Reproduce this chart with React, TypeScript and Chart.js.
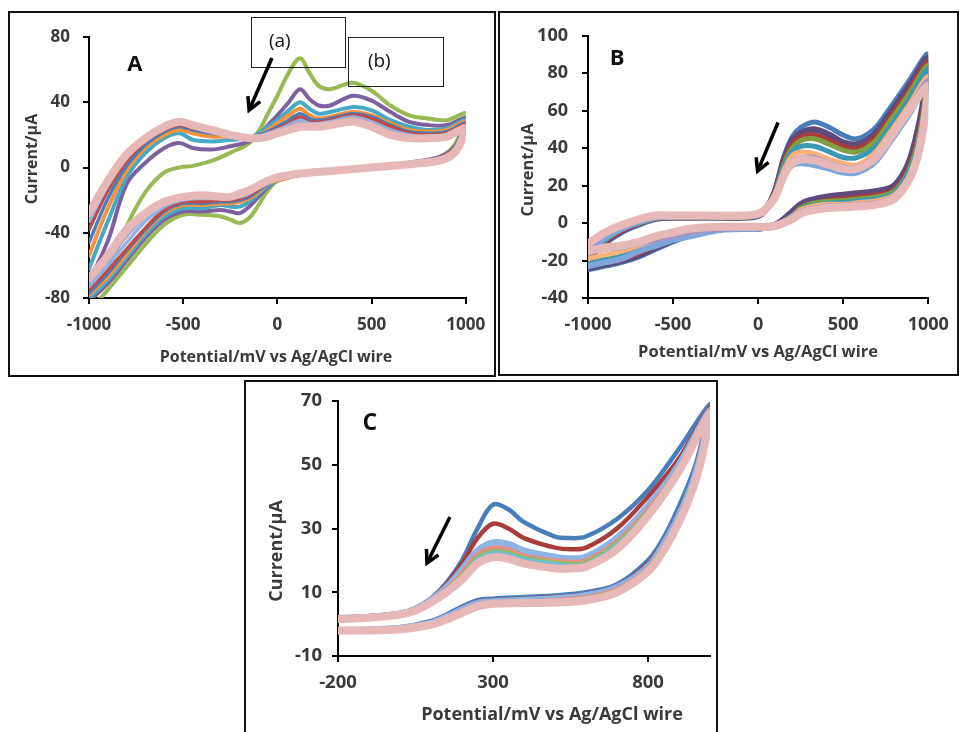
import React, { useEffect, useRef } from "react";
import { Chart, registerables } from "chart.js";

Chart.register(...registerables);

const FONT = "'Open Sans', 'DejaVu Sans', sans-serif";
const TEXT_COLOR = "#3a3a3a";
const X_TITLE = "Potential/mV vs Ag/AgCl wire";
const Y_TITLE = "Current/\u03bcA";

// ---------------- Panel A ----------------
const A_X_TICKS = [-1000, -500, 0, 500, 1000];
const A_Y_TICKS = [-80, -40, 0, 40, 80];
const A_FWD_X = [-1000, -900, -800, -700, -600, -520, -450, -350, -250, -150, -100, -50, 0, 60, 120, 170, 220, 280, 400, 500, 600, 700, 800, 900, 1000];
const A_REV_X = [960, 920, 850, 700, 500, 300, 100, 0, -50, -100, -150, -200, -250, -300, -400, -500, -600, -700, -800, -900, -1000];

const A_GREEN_F = [-84, -64, -36, -15, -3, 0, 1, 4, 9, 15, 22, 33, 44, 58, 67, 58, 50, 48, 52, 47, 38, 32, 30, 29, 33];
const A_GREEN_R = [18, 11, 6, 3, 0, -2, -4, -8, -14, -23, -31, -34, -32, -30, -29, -29, -35, -47, -61, -75, -88];
const A_PURPLE_F = [-70, -45, -10, 3, 12, 15, 12, 11, 13, 16, 20, 26, 32, 40, 48, 42, 38, 38, 44, 41, 34, 28, 26, 26, 30];
const A_PURPLE_R = [16, 10, 6, 3, 0, -2, -4, -8, -12, -18, -24, -28, -27, -26, -27, -27, -32, -43, -57, -71, -82];
const A_TEAL_F = [-62, -33, -6, 9, 18, 21, 17, 16, 17, 18, 21, 25, 29, 35, 40, 36, 33, 34, 37, 35, 29, 25, 23, 24, 29];
const A_TEAL_R = [15, 9, 5, 2, 0, -2, -5, -8, -11, -16, -21, -24, -24, -23, -25, -25, -30, -41, -55, -69, -80];
const A_ORANGE_F = [-54, -25, -2, 12, 20, 23, 21, 19, 19, 18, 20, 23, 27, 32, 36, 32, 30, 31, 34, 32, 27, 23, 22, 23, 28];
const A_ORANGE_R = [14, 9, 5, 2, 0, -2, -5, -8, -10, -15, -19, -21, -22, -22, -23, -23, -28, -39, -53, -67, -78];
const A_BLUE_F = [-46, -19, 1, 14, 22, 25, 23, 21, 20, 18, 20, 22, 25, 29, 33, 30, 29, 30, 33, 31, 26, 22, 21, 22, 27];
const A_BLUE_R = [13, 8, 4, 2, 0, -2, -5, -7, -10, -14, -18, -20, -21, -21, -22, -22, -27, -38, -51, -65, -77];
const A_RED_F = [-38, -14, 4, 16, 23, 26, 24, 22, 20, 18, 19, 21, 24, 27, 31, 28, 28, 29, 32, 30, 25, 21, 20, 21, 26];
const A_RED_R = [13, 8, 4, 2, 0, -2, -5, -7, -9, -13, -17, -19, -20, -20, -21, -21, -26, -37, -50, -63, -75];
const A_LBLUE_F = [-33, -11, 6, 17, 24, 27, 25, 22, 20, 18, 19, 21, 23, 26, 29, 27, 27, 28, 31, 28, 23, 20, 19, 20, 25];
const A_LBLUE_R = [13, 8, 4, 2, 0, -2, -5, -7, -9, -12, -16, -18, -19, -19, -19, -20, -24, -33, -46, -60, -73];
const A_LAV_F = [-30, -9, 7, 17, 25, 28, 26, 23, 20, 18, 18, 20, 22, 25, 27, 26, 26, 27, 30, 27, 22, 19, 18, 20, 24];
const A_LAV_R = [12, 8, 4, 2, 0, -2, -4, -7, -8, -11, -15, -17, -18, -18, -18, -19, -22, -30, -42, -57, -70];
const A_PINK_F = [-28, -8, 8, 18, 25, 28, 26, 23, 20, 18, 18, 19, 21, 23, 25, 25, 25, 26, 28, 25, 20, 18, 18, 19, 24];
const A_PINK_R = [12, 7, 4, 2, 0, -2, -4, -6, -8, -11, -14, -16, -18, -18, -17, -18, -21, -28, -38, -54, -68];

// ---------------- Panel B ----------------
const B_X_TICKS = [-1000, -500, 0, 500, 1000];
const B_Y_TICKS = [-40, -20, 0, 20, 40, 60, 80, 100];
const B_FWD_X = [-1000, -900, -800, -700, -600, -500, -300, -100, 0, 50, 100, 150, 200, 250, 330, 420, 500, 580, 680, 780, 880, 1000];
const B_REV_X = [970, 930, 880, 800, 700, 600, 500, 400, 300, 250, 200, 150, 100, 50, 0, -200, -400, -500, -600, -700, -800, -900, -1000];

const B_BLUE_F = [-20, -11, -5, -1, 2, 3, 3, 3, 4, 8, 18, 35, 46, 51, 54, 51, 47, 45, 50, 62, 75, 90];
const B_BLUE_R = [58, 38, 24, 15, 12, 11, 10, 9.5, 8, 6, 3, 0.5, -1.5, -2.5, -3, -3, -7, -10, -14, -18, -21, -23, -25];
const B_PURPLE_F = [-19, -10, -4, 0, 2.5, 3, 3, 3, 4, 8, 17, 33, 44, 48, 50, 47, 43, 42, 47, 59, 72, 88];
const B_PURPLE_R = [64, 46, 31, 20, 17, 16, 15, 14, 12, 10, 6, 2, -1, -2, -3, -3, -6, -9, -13, -17, -20, -22, -24];
const B_RED_F = [-18, -10, -4, 0, 2.5, 3, 3, 3, 4, 8, 17, 32, 42, 46, 47, 44, 41, 40, 45, 57, 70, 86];
const B_RED_R = [60, 42, 28, 18, 15, 14, 13, 12, 10, 8, 4, 1, -1.5, -2, -3, -3, -6, -9, -12, -16, -19, -21, -23];
const B_GREEN_F = [-17, -9, -3, 0, 2.5, 3, 3, 3, 4, 8, 16, 31, 40, 44, 45, 42, 39, 38, 43, 55, 68, 84];
const B_GREEN_R = [58, 40, 27, 17, 14, 13, 12, 11.5, 10, 8, 4, 1, -1.5, -2, -3, -3, -6, -8, -12, -15, -18, -20, -22];
const B_TEAL_F = [-16, -9, -3, 0.5, 3, 3.5, 3.5, 3.5, 4, 8, 16, 30, 38, 41, 41, 38, 35, 35, 40, 52, 65, 82];
const B_TEAL_R = [56, 38, 26, 16, 13, 12, 11, 10.5, 9, 7, 4, 1, -1.5, -2, -3, -3, -6, -8, -11, -14, -17, -19, -21];
const B_PEACH_F = [-14, -7, -2, 1, 3, 3.5, 3.5, 3.5, 4.5, 8, 15, 28, 36, 38, 37, 34, 32, 31, 37, 49, 62, 78];
const B_PEACH_R = [54, 36, 24, 15, 12, 11, 10, 10, 8.5, 7, 3.5, 0.5, -1.5, -2, -2.5, -3, -5, -7, -10, -12, -15, -17, -19];
const B_CORN_F = [-15, -8, -3, 0.5, 3, 3.5, 3.5, 3.5, 4.5, 7.5, 14, 25, 31, 32, 31, 29, 27, 27, 32, 44, 57, 74];
const B_CORN_R = [50, 33, 22, 13, 10, 9, 8.5, 8, 6.5, 5, 2.5, 0, -2, -2.5, -3, -3.5, -7, -9, -12, -15, -19, -21, -23];
const B_LAV_F = [-13, -6, -1, 1.5, 3.5, 4, 4, 4, 4.5, 8, 15, 27, 33, 35, 35, 32, 30, 30, 35, 47, 60, 76];
const B_LAV_R = [52, 34, 23, 14, 11, 10, 9.5, 9, 7.5, 6, 3, 0.5, -1.5, -2, -2.5, -3, -5, -7, -9, -11, -13, -14, -16];
const B_PINK_F = [-11, -5, -1, 2, 4, 4, 4, 4, 5, 8, 14, 25, 32, 34, 33.5, 31, 29, 29, 34, 46, 59, 73];
const B_PINK_R = [50, 33, 22, 13, 10, 9, 8.5, 8, 6.5, 5, 2, 0, -1.5, -2, -2, -2, -3, -5, -7, -10, -12, -13, -15];

// ---------------- Panel C ----------------
const C_X_TICKS = [-200, 300, 800];
const C_Y_TICKS = [-10, 10, 30, 50, 70];
const C_FWD_X = [-200, -100, 0, 50, 100, 150, 200, 250, 300, 350, 400, 500, 550, 600, 700, 800, 900, 1000];
const C_REV_X = [980, 950, 900, 850, 800, 700, 600, 500, 400, 300, 250, 200, 150, 100, 0, -100, -200];

const C_BLUE_F = [2, 2.5, 3.5, 5, 8, 13, 20, 30, 37.5, 36, 32, 27.5, 27, 27.5, 33, 42, 55, 69];
const C_BLUE_R = [60, 49, 37, 27, 20, 12.5, 10, 9, 8.5, 8, 7.5, 5.5, 3, 1, -1, -1.5, -2];
const C_RED_F = [2, 2.5, 3.5, 5, 8, 12.5, 19, 27, 31.5, 30, 27, 24, 23.5, 24, 30, 40, 52, 68];
const C_RED_R = [58, 47, 35, 26, 19, 12, 9.5, 8.5, 8, 7.5, 7, 5, 2.5, 0.5, -1.2, -1.7, -2];
const C_CORN_F = [1.8, 2.2, 3.2, 4.7, 7.5, 11.5, 17, 23, 25.5, 25, 23, 21, 20.5, 21, 27, 37, 50, 67];
const C_CORN_R = [57, 46, 34, 25, 18, 11.5, 9, 8, 7.5, 7, 6.5, 4.5, 2.3, 0.3, -1.3, -1.8, -2];
const C_SALMON_F = [1.8, 2.2, 3.2, 4.6, 7.3, 11, 16, 22, 24, 23.5, 21.5, 20, 19.5, 20, 26, 36, 49, 67];
const C_SALMON_R = [56, 45, 33, 24, 17.5, 11, 8.5, 7.5, 7, 6.8, 6.2, 4.2, 2, 0.2, -1.4, -1.9, -2];
const C_GREEN_F = [1.7, 2.1, 3.1, 4.5, 7.2, 10.8, 15.5, 21, 23, 22.5, 21, 19.5, 19, 19.5, 25.5, 35.5, 48.5, 66];
const C_GREEN_R = [56, 45, 33, 24, 17, 10.8, 8.3, 7.3, 6.9, 6.6, 6, 4, 1.8, 0, -1.5, -2, -2];
const C_TEAL_F = [1.7, 2.1, 3, 4.4, 7, 10.5, 15, 20.5, 22.5, 22, 20.5, 19, 18.5, 19, 25, 35, 48, 66];
const C_TEAL_R = [55.5, 44.5, 32.5, 23.5, 16.8, 10.5, 8, 7, 6.8, 6.5, 5.8, 3.8, 1.6, -0.1, -1.5, -2, -2];
const C_PINK_F = [1.5, 2, 3, 4.3, 6.8, 10, 14, 19, 21, 20.5, 19, 17.5, 17.5, 18, 23.5, 34, 48, 66];
const C_PINK_R = [55, 44, 32, 23, 16.5, 10, 7.5, 6.8, 6.6, 6.4, 5.6, 3.5, 1.5, -0.2, -1.6, -2, -2];

type Series = { color: string; width: number; fwd: number[]; rev: number[] };
type Note = {
  letter: { x: number; y: number; text: string; size: number };
  arrows: { x1: number; y1: number; x2: number; y2: number }[];
  boxes: { x1: number; y1: number; x2: number; y2: number }[];
  labels: { x: number; y: number; text: string; size: number }[];
};
type Rect = { left: number; top: number; right: number; bottom: number };
type Panel = {
  box: Rect;
  area: Rect;
  xMin: number; xMax: number; yMin: number; yMax: number;
  xTicks: number[]; yTicks: number[];
  fwdX: number[]; revX: number[];
  series: Series[];
  tickSize: number; titleSize: number;
  xTickY: number; yLabelRight: number;
  xTitle: { x: number; y: number };
  yTitle: { x: number; y: number };
  notes: Note;
};

const PANEL_A: Panel = {
  box: { left: 8, top: 11, right: 496, bottom: 377 },
  area: { left: 89, top: 37, right: 468, bottom: 298 },
  xMin: -1000, xMax: 1000, yMin: -80, yMax: 80,
  xTicks: A_X_TICKS, yTicks: A_Y_TICKS, fwdX: A_FWD_X, revX: A_REV_X,
  series: [
    { color: "#98B954", width: 4, fwd: A_GREEN_F, rev: A_GREEN_R },
    { color: "#7D60A0", width: 4, fwd: A_PURPLE_F, rev: A_PURPLE_R },
    { color: "#46AAC5", width: 4, fwd: A_TEAL_F, rev: A_TEAL_R },
    { color: "#F69240", width: 4, fwd: A_ORANGE_F, rev: A_ORANGE_R },
    { color: "#4A7EBB", width: 3.5, fwd: A_BLUE_F, rev: A_BLUE_R },
    { color: "#BE4B48", width: 3.5, fwd: A_RED_F, rev: A_RED_R },
    { color: "#8EB4E3", width: 3.5, fwd: A_LBLUE_F, rev: A_LBLUE_R },
    { color: "#B3A2C7", width: 3.5, fwd: A_LAV_F, rev: A_LAV_R },
    { color: "#E6B9B8", width: 8, fwd: A_PINK_F, rev: A_PINK_R },
  ],
  tickSize: 17, titleSize: 16,
  xTickY: 325, yLabelRight: 70,
  xTitle: { x: 276, y: 357 },
  yTitle: { x: 32, y: 159 },
  notes: {
    letter: { x: -757, y: 62.8, text: "A", size: 22 },
    arrows: [{ x1: -29, y1: 67.1, x2: -150, y2: 35.2 }],
    boxes: [
      { x1: -140, y1: 92.3, x2: 361, y2: 61.6 },
      { x1: 377, y1: 80, x2: 879, y2: 50 },
    ],
    labels: [
      { x: 13, y: 76.9, text: "(a)", size: 19 },
      { x: 541, y: 64.7, text: "(b)", size: 19 },
    ],
  },
};

const PANEL_B: Panel = {
  box: { left: 498, top: 11, right: 959, bottom: 376 },
  area: { left: 588, top: 29, right: 937, bottom: 298 },
  xMin: -1000, xMax: 1000, yMin: -40, yMax: 100,
  xTicks: B_X_TICKS, yTicks: B_Y_TICKS, fwdX: B_FWD_X, revX: B_REV_X,
  series: [
    { color: "#4A7EBB", width: 5, fwd: B_BLUE_F, rev: B_BLUE_R },
    { color: "#5F4A7E", width: 6.5, fwd: B_PURPLE_F, rev: B_PURPLE_R },
    { color: "#A83E3B", width: 5, fwd: B_RED_F, rev: B_RED_R },
    { color: "#7F9F45", width: 5, fwd: B_GREEN_F, rev: B_GREEN_R },
    { color: "#3A99B3", width: 5, fwd: B_TEAL_F, rev: B_TEAL_R },
    { color: "#FAB27A", width: 5, fwd: B_PEACH_F, rev: B_PEACH_R },
    { color: "#7FA6DA", width: 6, fwd: B_CORN_F, rev: B_CORN_R },
    { color: "#A595C4", width: 5, fwd: B_LAV_F, rev: B_LAV_R },
    { color: "#E6B9B8", width: 8, fwd: B_PINK_F, rev: B_PINK_R },
  ],
  tickSize: 18, titleSize: 16.5,
  xTickY: 325, yLabelRight: 568,
  xTitle: { x: 758, y: 352 },
  yTitle: { x: 528, y: 170 },
  notes: {
    letter: { x: -828, y: 88, text: "B", size: 22 },
    arrows: [{ x1: 117, y1: 53.7, x2: -3, y2: 27.7 }],
    boxes: [],
    labels: [],
  },
};

const PANEL_C: Panel = {
  box: { left: 244, top: 380, right: 718, bottom: 745 },
  area: { left: 338, top: 401, right: 710, bottom: 656 },
  xMin: -200, xMax: 1000, yMin: -10, yMax: 70,
  xTicks: C_X_TICKS, yTicks: C_Y_TICKS, fwdX: C_FWD_X, revX: C_REV_X,
  series: [
    { color: "#4A7EBB", width: 4.5, fwd: C_BLUE_F, rev: C_BLUE_R },
    { color: "#A83E3B", width: 4.5, fwd: C_RED_F, rev: C_RED_R },
    { color: "#8EB4E3", width: 7, fwd: C_CORN_F, rev: C_CORN_R },
    { color: "#E0908D", width: 4.5, fwd: C_SALMON_F, rev: C_SALMON_R },
    { color: "#98B954", width: 3.5, fwd: C_GREEN_F, rev: C_GREEN_R },
    { color: "#6FBDD1", width: 3.5, fwd: C_TEAL_F, rev: C_TEAL_R },
    { color: "#E6B9B8", width: 8, fwd: C_PINK_F, rev: C_PINK_R },
  ],
  tickSize: 18.5, titleSize: 18,
  xTickY: 683, yLabelRight: 322,
  xTitle: { x: 552, y: 715 },
  yTitle: { x: 277, y: 551 },
  notes: {
    letter: { x: -97, y: 63.1, text: "C", size: 23 },
    arrows: [{ x1: 161, y1: 33.6, x2: 87, y2: 19.2 }],
    boxes: [],
    labels: [],
  },
};

function makeNotesPlugin(p: Panel) {
  const notes = p.notes;
  return {
    id: "cvNotes",
    afterDraw(chart: any) {
      const { ctx } = chart;
      const xs = chart.scales.x;
      const ys = chart.scales.y;
      const px = (v: number) => xs.getPixelForValue(v);
      const py = (v: number) => ys.getPixelForValue(v);
      ctx.save();
      // axis titles (positions given in page pixels)
      ctx.fillStyle = TEXT_COLOR;
      ctx.textAlign = "center";
      ctx.textBaseline = "middle";
      ctx.font = `bold ${p.titleSize}px ${FONT}`;
      ctx.fillText(X_TITLE, p.xTitle.x - p.box.left, p.xTitle.y - p.box.top);
      ctx.save();
      ctx.translate(p.yTitle.x - p.box.left, p.yTitle.y - p.box.top);
      ctx.rotate(-Math.PI / 2);
      ctx.fillText(Y_TITLE, 0, 0);
      ctx.restore();
      // boxes
      ctx.strokeStyle = "#222";
      ctx.lineWidth = 1;
      notes.boxes.forEach((b) => {
        const x1 = Math.round(px(b.x1)) + 0.5;
        const y1 = Math.round(py(b.y1)) + 0.5;
        const x2 = Math.round(px(b.x2)) + 0.5;
        const y2 = Math.round(py(b.y2)) + 0.5;
        ctx.strokeRect(x1, y1, x2 - x1, y2 - y1);
      });
      ctx.fillStyle = "#111";
      notes.labels.forEach((l) => {
        ctx.font = `${l.size}px ${FONT}`;
        ctx.fillText(l.text, px(l.x), py(l.y));
      });
      const L = notes.letter;
      ctx.font = `bold ${L.size}px ${FONT}`;
      ctx.fillText(L.text, px(L.x), py(L.y));
      ctx.strokeStyle = "#000";
      ctx.lineWidth = 3.5;
      ctx.lineCap = "butt";
      ctx.lineJoin = "miter";
      notes.arrows.forEach((a) => {
        const x1 = px(a.x1), y1 = py(a.y1), x2 = px(a.x2), y2 = py(a.y2);
        const ang = Math.atan2(y2 - y1, x2 - x1);
        const head = 14;
        ctx.beginPath();
        ctx.moveTo(x1, y1);
        ctx.lineTo(x2 - Math.cos(ang) * 2, y2 - Math.sin(ang) * 2);
        ctx.stroke();
        ctx.beginPath();
        ctx.moveTo(x2 - head * Math.cos(ang - 0.5), y2 - head * Math.sin(ang - 0.5));
        ctx.lineTo(x2, y2);
        ctx.lineTo(x2 - head * Math.cos(ang + 0.5), y2 - head * Math.sin(ang + 0.5));
        ctx.stroke();
      });
      ctx.restore();
    },
  };
}

function buildConfig(p: Panel): any {
  const tickLen = 6;
  const lhTick = p.tickSize * 1.2;
  const datasets = p.series
    .map((s) => {
      const pts = p.fwdX.map((x, i) => ({ x, y: s.fwd[i] }));
      p.revX.forEach((x, i) => pts.push({ x, y: s.rev[i] }));
      return {
        data: pts,
        borderColor: s.color,
        backgroundColor: s.color,
        borderWidth: s.width,
        pointRadius: 0,
        showLine: true,
        fill: false,
        tension: 0.35,
        borderCapStyle: "round",
        borderJoinStyle: "round",
      };
    })
    .reverse();
  const tickFont = { family: FONT, size: p.tickSize, weight: "bold" };
  const grid = {
    display: true,
    drawOnChartArea: false,
    drawTicks: true,
    tickLength: tickLen,
    color: "#000",
    lineWidth: 2,
  };
  const border = { display: true, color: "#000", width: 2 };
  return {
    type: "scatter",
    data: { datasets },
    plugins: [makeNotesPlugin(p)],
    options: {
      responsive: false,
      animation: false,
      devicePixelRatio: 1,
      events: [],
      layout: {
        padding: {
          left: 0,
          top: p.area.top - p.box.top,
          right: p.box.right - p.area.right,
          bottom: 0,
        },
      },
      plugins: { legend: { display: false }, tooltip: { enabled: false } },
      scales: {
        x: {
          type: "linear",
          min: p.xMin,
          max: p.xMax,
          afterBuildTicks: (s: any) => {
            s.ticks = p.xTicks.map((v) => ({ value: v }));
          },
          afterFit: (s: any) => {
            s.height = p.box.bottom - p.area.bottom;
          },
          ticks: {
            font: tickFont,
            color: TEXT_COLOR,
            autoSkip: false,
            maxRotation: 0,
            padding: p.xTickY - p.area.bottom - tickLen - lhTick / 2,
            callback: (v: any) => String(v),
          },
          title: { display: false },
          grid,
          border,
        },
        y: {
          type: "linear",
          min: p.yMin,
          max: p.yMax,
          afterBuildTicks: (s: any) => {
            s.ticks = p.yTicks.map((v) => ({ value: v }));
          },
          afterFit: (s: any) => {
            s.width = p.area.left - p.box.left;
          },
          ticks: {
            font: tickFont,
            color: TEXT_COLOR,
            autoSkip: false,
            padding: p.area.left - p.yLabelRight - tickLen,
            callback: (v: any) => String(v),
          },
          title: { display: false },
          grid,
          border,
        },
      },
    },
  };
}

function PanelChart({ p }: { p: Panel }) {
  const ref = useRef<HTMLCanvasElement | null>(null);
  useEffect(() => {
    if (!ref.current) return;
    const chart = new Chart(ref.current, buildConfig(p));
    return () => chart.destroy();
  }, [p]);
  const w = p.box.right - p.box.left;
  const h = p.box.bottom - p.box.top;
  return (
    <>
      <canvas
        ref={ref}
        width={w}
        height={h}
        style={{ position: "absolute", left: p.box.left, top: p.box.top, width: w, height: h }}
      />
      <div
        style={{
          position: "absolute",
          left: p.box.left,
          top: p.box.top,
          width: w,
          height: h,
          border: "2px solid #111",
          boxSizing: "border-box",
          pointerEvents: "none",
        }}
      />
    </>
  );
}

export default function App() {
  return (
    <div
      style={{
        position: "fixed",
        left: 0,
        top: 0,
        width: 961,
        height: 732,
        background: "#fff",
        overflow: "hidden",
      }}
    >
      <PanelChart p={PANEL_A} />
      <PanelChart p={PANEL_B} />
      <PanelChart p={PANEL_C} />
    </div>
  );
}
